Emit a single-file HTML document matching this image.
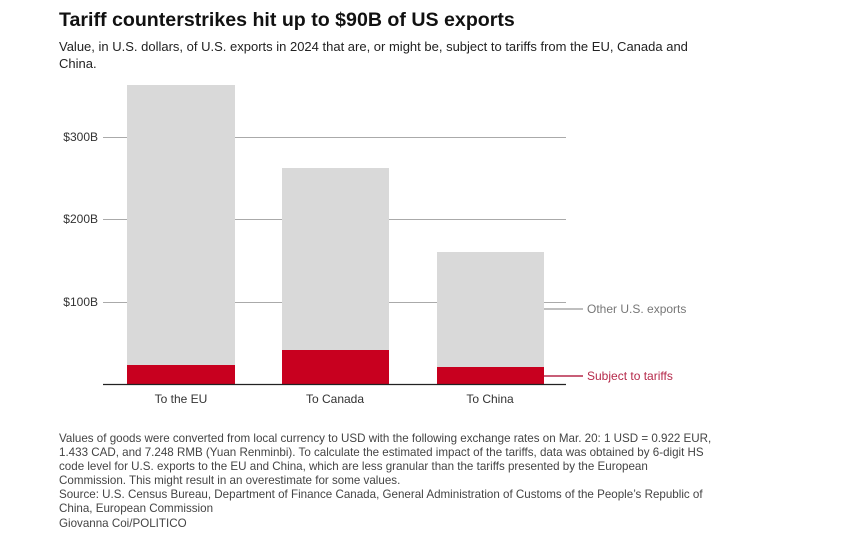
<!DOCTYPE html>
<html><head><style>
body{margin:0;background:#fff;width:864px;height:536px;overflow:hidden;font-family:"Liberation Sans",sans-serif;}
</style></head><body>
<svg width="864" height="536" xmlns="http://www.w3.org/2000/svg" font-family="Liberation Sans, sans-serif">
<text x="59" y="26" font-size="19.6" font-weight="bold" fill="#111">Tariff counterstrikes hit up to $90B of US exports</text>
<text x="59" y="51" font-size="13" fill="#222">Value, in U.S. dollars, of U.S. exports in 2024 that are, or might be, subject to tariffs from the EU, Canada and</text>
<text x="59" y="68" font-size="13" fill="#222">China.</text>
<g stroke="#aaa" stroke-width="1">
<line x1="103" y1="137.5" x2="566" y2="137.5"/>
<line x1="103" y1="219.5" x2="566" y2="219.5"/>
<line x1="103" y1="302.5" x2="566" y2="302.5"/>
</g>
<g font-size="12" fill="#333" text-anchor="end">
<text x="98" y="141">$300B</text>
<text x="98" y="223">$200B</text>
<text x="98" y="306">$100B</text>
</g>
<rect x="127" y="85" width="108" height="299" fill="#d9d9d9"/>
<rect x="282" y="168" width="107" height="216" fill="#d9d9d9"/>
<rect x="437" y="252" width="107" height="132" fill="#d9d9d9"/>
<rect x="127" y="365" width="108" height="19" fill="#c8001f"/>
<rect x="282" y="350" width="107" height="34" fill="#c8001f"/>
<rect x="437" y="367" width="107" height="17" fill="#c8001f"/>
<line x1="103" y1="384.5" x2="566" y2="384.5" stroke="#222" stroke-width="1.2"/>
<g font-size="12" fill="#333" text-anchor="middle">
<text x="181" y="403">To the EU</text>
<text x="335" y="403">To Canada</text>
<text x="490" y="403">To China</text>
</g>
<line x1="544" y1="309" x2="583" y2="309" stroke="#aaa" stroke-width="1.5"/>
<text x="587" y="313" font-size="12" fill="#777">Other U.S. exports</text>
<line x1="544" y1="376" x2="583" y2="376" stroke="#b5294a" stroke-width="1.5"/>
<text x="587" y="380" font-size="12" fill="#b5294a">Subject to tariffs</text>
<g font-size="11.6" fill="#444">
<text x="59" y="442">Values of goods were converted from local currency to USD with the following exchange rates on Mar. 20: 1 USD = 0.922 EUR,</text>
<text x="59" y="456">1.433 CAD, and 7.248 RMB (Yuan Renminbi). To calculate the estimated impact of the tariffs, data was obtained by 6-digit HS</text>
<text x="59" y="470">code level for U.S. exports to the EU and China, which are less granular than the tariffs presented by the European</text>
<text x="59" y="484">Commission. This might result in an overestimate for some values.</text>
<text x="59" y="498">Source: U.S. Census Bureau, Department of Finance Canada, General Administration of Customs of the People’s Republic of</text>
<text x="59" y="512">China, European Commission</text>
<text x="59" y="527">Giovanna Coi/POLITICO</text>
</g>
</svg>
</body></html>
